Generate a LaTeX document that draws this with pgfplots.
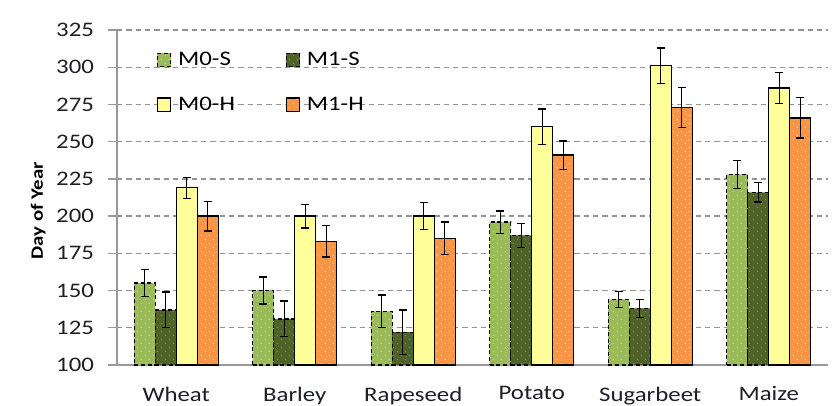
\documentclass[border=0pt]{standalone}
\usepackage{fontspec}
\setmainfont{Carlito}[FakeStretch=1.2]
\usepackage{pgfplots}
\usepackage{pgfplotstable}
\pgfplotsset{compat=1.18}
\usetikzlibrary{patterns}
\pgfdeclarepatternformonly{sparsedots}{\pgfqpoint{-1pt}{-1pt}}{\pgfqpoint{7pt}{7pt}}{\pgfqpoint{6pt}{6pt}}{%
  \pgfpathcircle{\pgfqpoint{1pt}{1pt}}{0.45pt}%
  \pgfpathcircle{\pgfqpoint{4pt}{4pt}}{0.45pt}%
  \pgfusepath{fill}}
\definecolor{cmos}{RGB}{155,187,89}
\definecolor{cmis}{RGB}{79,98,40}
\definecolor{cmoh}{RGB}{255,255,153}
\definecolor{cmih}{RGB}{247,150,70}
\definecolor{tickcol}{RGB}{30,30,40}

\pgfplotstableread{
cat m0s m0se m1s m1se m0h m0he m1h m1he
0 155 9   137 12  219 7    200 10
1 150 9   131 12  200 8    183 10.5
2 136 11  122 15  200 9    185 11
3 196 7.5 187 8   260 12   241 9.5
4 144 5.5 138 6   301 12   273 13.5
5 228 9.5 216 6.5 286 10.5 266 13.5
}\datatable

\begin{document}
\begin{tikzpicture}[x=0.75pt,y=0.75pt]
\useasboundingbox (-117,-40) rectangle (716,365);
\begin{axis}[
  at={(0,0)}, anchor=south west,
  scale only axis, width=533.25pt, height=251.25pt,
  ybar=0pt, bar width=15.75pt,
  ymin=100, ymax=325, ytick={100,125,...,325},
  xmin=-0.5, xmax=5.5,
  xtick={0,...,5},
  xticklabels={Wheat,Barley,Rapeseed,Potato,Sugarbeet,Maize},
  xtick style={draw=none},
  extra x ticks={-0.5,0.5,...,5.5},
  extra x tick labels={},
  extra x tick style={grid=none, major tick length=6pt, tick align=outside, tick style={gray!80, line width=1pt}},
  axis x line*=bottom, axis y line*=left,
  axis line style={gray!80, line width=1pt},
  y tick style={gray!80, line width=1pt},
  tick align=outside, major tick length=6.75pt,
  ymajorgrids,
  grid style={gray!85, line width=1pt, dash pattern=on 4pt off 3pt},
  /pgf/number format/assume math mode=true,
  yticklabel style={font=\fontsize{15.5}{18}\selectfont, text=tickcol, xshift=-7pt},
  xticklabel style={font=\fontsize{15.5}{18}\selectfont, text=tickcol, yshift=-6pt},
  ylabel={Day of Year},
  ylabel style={at={([xshift=-59pt]axis description cs:0,0.46)}, anchor=center, font=\bfseries\fontsize{13}{16}\selectfont},
  legend columns=2,
  legend cell align=left,
  legend style={at={(axis description cs:0.05,0.95)}, anchor=north west, draw=none, fill=none,
    font=\fontsize{15.5}{18}\selectfont, row sep=18pt,
    /tikz/every odd column/.append style={column sep=3pt},
    /tikz/every even column/.append style={column sep=36pt}},
  legend image code/.code={\draw[#1] (0pt,-5pt) rectangle (10pt,5pt);},
  error bars/y dir=both, error bars/y explicit,
  error bars/error bar style={solid, black, line width=1pt},
  error bars/error mark options={solid, rotate=90, mark size=3pt, line width=1pt, black},
]
\addplot[fill=cmos, draw=black, line width=1pt, dash pattern=on 3pt off 2pt,
  postaction={pattern=sparsedots, pattern color=cmos!60!white}]
  table[x=cat, y=m0s, y error=m0se]{\datatable};
\addplot[fill=cmis, draw=black, line width=1pt, dash pattern=on 3pt off 2pt,
  postaction={pattern=sparsedots, pattern color=cmis!70!white}]
  table[x=cat, y=m1s, y error=m1se]{\datatable};
\addplot[fill=cmoh, draw=black, line width=1pt,
  postaction={pattern=sparsedots, pattern color=cmoh!40!white}]
  table[x=cat, y=m0h, y error=m0he]{\datatable};
\addplot[fill=cmih, draw=black, line width=1pt,
  postaction={pattern=sparsedots, pattern color=cmih!60!white}]
  table[x=cat, y=m1h, y error=m1he]{\datatable};
\legend{M0-S,M1-S,M0-H,M1-H}
\end{axis}
\end{tikzpicture}
\end{document}
